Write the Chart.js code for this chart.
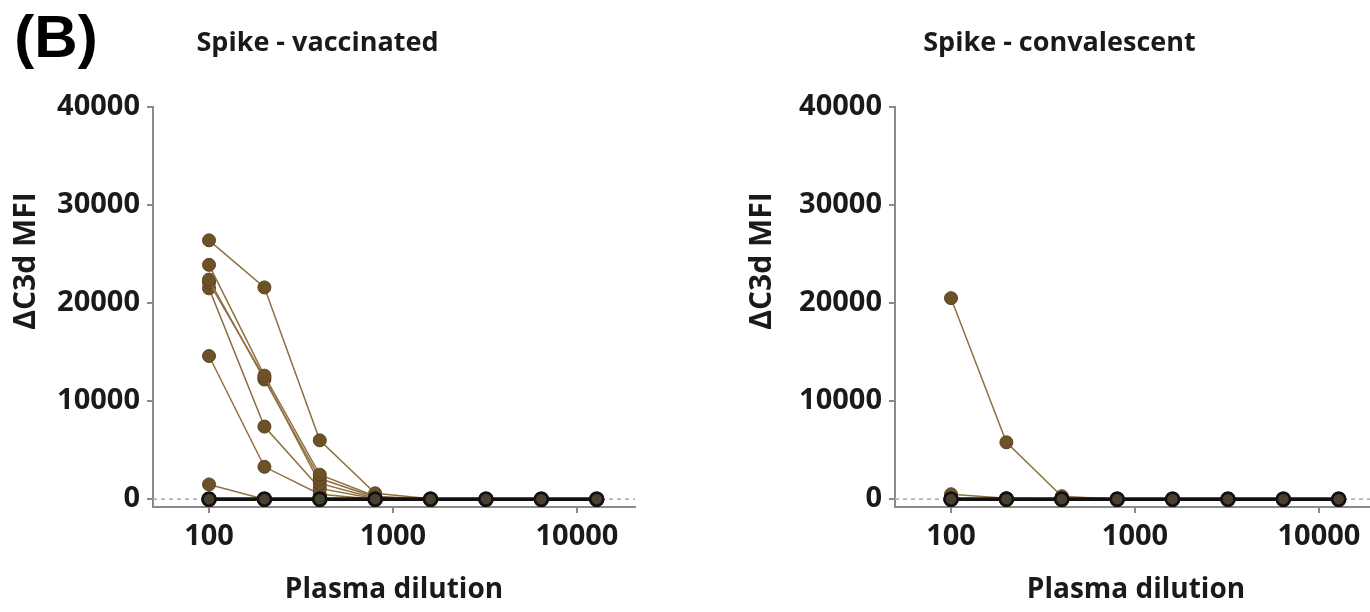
<!DOCTYPE html>
<html><head><meta charset="utf-8">
<script src="https://cdn.jsdelivr.net/npm/chart.js@4.4.1/dist/chart.umd.min.js"></script>
<style>
html,body{margin:0;padding:0;background:#fff;overflow:hidden;width:1370px;height:612px;}
#wrap{position:relative;width:1370px;height:612px;overflow:hidden;background:#fff;}
.pan{position:absolute;top:0;width:788px;height:612px;}
</style></head><body>
<div id="wrap">
<div class="pan" style="left:0"><canvas id="c1" width="788" height="612"></canvas></div>
<div class="pan" style="left:742px"><canvas id="c2" width="788" height="612"></canvas></div>
</div>
<script>
const dilutions = [100, 200, 400, 800, 1600, 3200, 6400, 12800];
const xTickValues = [100, 1000, 10000];
const yTickValues = [0, 10000, 20000, 30000, 40000];
const panelTitles = ['Spike - vaccinated', 'Spike - convalescent'];
const yAxisTitle = 'ΔC3d MFI';
const xAxisTitle = 'Plasma dilution';
const panelLetter = '(B)';

// Spike - vaccinated (brown = donors, black = negative controls)
const vac1 = [26400, 21600, 6000, 600, 50, 0, 0, 0];
const vac2 = [23900, 12600, 2500, 300, 0, 0, 0, 0];
const vac3 = [22400, 12200, 2100, 200, 0, 0, 0, 0];
const vac4 = [22100, 12400, 1600, 100, 0, 0, 0, 0];
const vac5 = [21500, 7400, 1100, 50, 0, 0, 0, 0];
const vac6 = [14600, 3300, 500, 0, 0, 0, 0, 0];
const vac7 = [1500, 0, 0, 0, 0, 0, 0, 0];
const vacNeg1 = [0, 0, 0, 0, 0, 0, 0, 0];
const vacNeg2 = [0, 0, 0, 0, 0, 0, 0, 0];

// Spike - convalescent
const conv1 = [20500, 5800, 300, 0, 0, 0, 0, 0];
const conv2 = [500, 100, 0, 0, 0, 0, 0, 0];
const convNeg1 = [0, 0, 0, 0, 0, 0, 0, 0];
const convNeg2 = [0, 0, 0, 0, 0, 0, 0, 0];

const X_MIN = 49.6, X_MAX = 20670, Y_MIN = -800, Y_MAX = 40000;
const FONT = '"Open Sans", "DejaVu Sans", sans-serif';
const TXT = '#1a1a1a';
const AXIS = '#8a8a8a';

function pts(arr) { return arr.map((y, i) => ({ x: dilutions[i], y: y })); }
function brown(arr) {
  return { data: pts(arr), borderColor: '#8f7040', borderWidth: 1.5,
    pointRadius: 6.5, pointBackgroundColor: '#6d5128', pointBorderColor: '#5c4420',
    pointBorderWidth: 1, tension: 0, order: 2 };
}
function black(arr) {
  return { data: pts(arr), borderColor: '#111', borderWidth: 3.5,
    pointRadius: 6.5, pointBackgroundColor: '#4a4030', pointBorderColor: '#111',
    pointBorderWidth: 2.5, tension: 0, order: 1 };
}
function zeroLine() {
  return { data: [{ x: X_MIN, y: 0 }, { x: X_MAX, y: 0 }], borderColor: '#a8a8a8',
    borderWidth: 1.5, borderDash: [4, 4], pointRadius: 0, order: 3 };
}

const textPlugin = {
  id: 'extraText',
  afterDraw(chart, args, opts) {
    const ctx = chart.ctx;
    ctx.save();
    ctx.fillStyle = TXT;
    ctx.textAlign = 'center';
    ctx.textBaseline = 'middle';
    ctx.font = 'bold 30px ' + FONT;
    ctx.translate(opts.yTitleX, opts.yTitleY);
    ctx.rotate(-Math.PI / 2);
    ctx.fillText(yAxisTitle, 0, 0);
    ctx.restore();
    if (opts.letter) {
      ctx.save();
      ctx.fillStyle = '#000';
      ctx.textAlign = 'center';
      ctx.textBaseline = 'middle';
      ctx.font = 'bold 60px "Liberation Sans", Arial, sans-serif';
      ctx.fillText(opts.letter, 56, 40);
      ctx.restore();
    }
  }
};

function makeChart(id, title, datasets, yTitleX, letter) {
  return new Chart(document.getElementById(id), {
    type: 'line',
    data: { datasets: datasets },
    options: {
      responsive: false, animation: false, devicePixelRatio: 1,
      layout: { padding: { left: 0, right: 153, top: 0, bottom: 0 } },
      plugins: {
        legend: { display: false }, tooltip: { enabled: false },
        title: { display: true, text: title, color: TXT,
          font: { family: FONT, size: 27, weight: 'bold' },
          padding: { top: 27, bottom: 47.6 } },
        extraText: { yTitleX: yTitleX, yTitleY: 261, letter: letter }
      },
      scales: {
        x: {
          type: 'logarithmic', min: X_MIN, max: X_MAX,
          afterBuildTicks: s => { s.ticks = xTickValues.map(v => ({ value: v })); },
          afterFit: s => { s.height = 105; },
          ticks: { color: TXT, font: { family: FONT, size: 29, weight: 'bold' },
            padding: 6, maxRotation: 0, autoSkip: false, callback: v => String(v) },
          grid: { display: true, drawOnChartArea: false, drawTicks: true, tickLength: 6, color: AXIS, lineWidth: 2 },
          border: { display: true, color: AXIS, width: 2 },
          title: { display: true, text: xAxisTitle, color: TXT,
            font: { family: FONT, size: 28, weight: 'bold' }, padding: { top: 0, bottom: 5 } }
        },
        y: {
          type: 'linear', min: Y_MIN, max: Y_MAX,
          afterBuildTicks: s => { s.ticks = yTickValues.map(v => ({ value: v })); },
          afterFit: s => { s.width = 153; },
          ticks: { color: TXT, font: { family: FONT, size: 29, weight: 'bold' },
            padding: 7, callback: v => String(v) },
          grid: { display: true, drawOnChartArea: false, drawTicks: true, tickLength: 6, color: AXIS, lineWidth: 2 },
          border: { display: true, color: AXIS, width: 2 }
        }
      }
    },
    plugins: [textPlugin]
  });
}

makeChart('c1', panelTitles[0], [
  black(vacNeg1), black(vacNeg2),
  brown(vac1), brown(vac2), brown(vac3), brown(vac4), brown(vac5), brown(vac6), brown(vac7),
  zeroLine()
], 26, panelLetter);

makeChart('c2', panelTitles[1], [
  black(convNeg1), black(convNeg2),
  brown(conv1), brown(conv2),
  zeroLine()
], 20, null);
</script>
</body></html>
